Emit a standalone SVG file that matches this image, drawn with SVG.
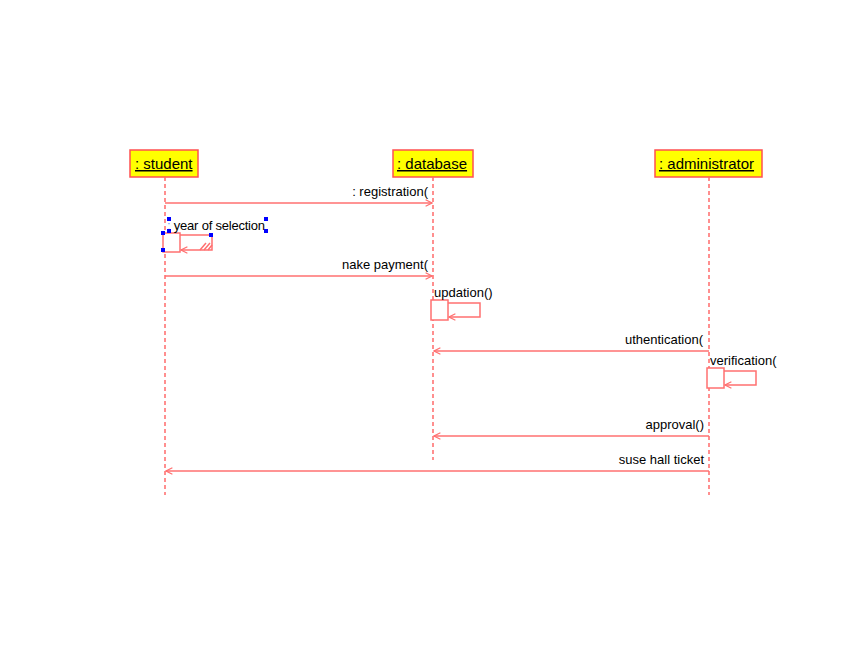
<svg xmlns="http://www.w3.org/2000/svg" width="844" height="650" viewBox="0 0 844 650">
<style>
.hdr{fill:#ffff00;stroke:#ff5050;stroke-width:1.5}
.hl{font-family:"Liberation Sans",Arial,sans-serif;font-size:15px;fill:#000;text-decoration:underline}
.life{stroke:#ff6b6b;stroke-width:1.5;stroke-dasharray:4,3;fill:none}
.msg{stroke:#ff7070;stroke-width:1.5;fill:none}
.act{fill:#fff;stroke:#ff7070;stroke-width:1.5}
.lbl{font-family:"Liberation Sans",Arial,sans-serif;font-size:13px;fill:#000}
.h{fill:#0000ff}
</style>
<defs>
<marker id="ah" viewBox="0 0 10 10" refX="9" refY="5" markerWidth="8" markerHeight="8" markerUnits="userSpaceOnUse" orient="auto">
<path d="M1,1 L9,5 L1,9" fill="none" stroke="#ff7070" stroke-width="1.5"/>
</marker>
</defs>
<rect width="844" height="650" fill="#fff"/>
<g id="student">
<rect class="hdr" x="130" y="150" width="68" height="27"/>
<text class="hl" x="135" y="169"> : student</text>
<line class="life" x1="165" y1="177" x2="165" y2="495"/>
</g>
<g id="database">
<rect class="hdr" x="393" y="150" width="80" height="27"/>
<text class="hl" x="397" y="169"> : database</text>
<line class="life" x1="433" y1="177" x2="433" y2="460"/>
</g>
<g id="administrator">
<rect class="hdr" x="655" y="150" width="107" height="27"/>
<text class="hl" x="659" y="169"> : administrator</text>
<line class="life" x1="709" y1="177" x2="709" y2="495"/>
</g>
<g id="connectors">
<line class="msg" x1="165" y1="203" x2="432" y2="203" marker-end="url(#ah)"/>
<text class="lbl" x="428" y="196" text-anchor="end">: registration(</text>

<rect class="act" x="163" y="233" width="17" height="19"/>
<path class="msg" d="M180,235 H212 V250 H181" marker-end="url(#ah)"/>
<path class="msg" d="M200,250 L206,243 M204,250 L210,243 M208,250 L212,245" stroke-width="1"/>
<text class="lbl" x="167" y="230" textLength="98"><tspan fill="#6aa0ff">:</tspan> year of selection</text>
<rect class="h" x="167" y="217" width="4" height="4"/>
<rect class="h" x="167" y="229" width="4" height="4"/>
<rect class="h" x="264" y="217" width="4" height="4"/>
<rect class="h" x="264" y="229" width="4" height="4"/>
<rect class="h" x="161" y="231" width="4" height="4"/>
<rect class="h" x="209" y="233" width="4" height="4"/>
<rect class="h" x="161" y="248" width="4" height="4"/>

<line class="msg" x1="165" y1="276" x2="432" y2="276" marker-end="url(#ah)"/>
<text class="lbl" x="428" y="269" text-anchor="end">nake payment(</text>

<rect class="act" x="431" y="300" width="17" height="20"/>
<path class="msg" d="M448,303 H480 V317 H449" marker-end="url(#ah)"/>
<text class="lbl" x="434" y="297">updation()</text>

<line class="msg" x1="709" y1="351" x2="434" y2="351" marker-end="url(#ah)"/>
<text class="lbl" x="703" y="344" text-anchor="end">uthentication(</text>

<rect class="act" x="707" y="368" width="17" height="20"/>
<path class="msg" d="M724,371 H756 V385 H725" marker-end="url(#ah)"/>
<text class="lbl" x="710" y="365">verification(</text>

<line class="msg" x1="709" y1="436" x2="434" y2="436" marker-end="url(#ah)"/>
<text class="lbl" x="704" y="429" text-anchor="end">approval()</text>

<line class="msg" x1="709" y1="471" x2="166" y2="471" marker-end="url(#ah)"/>
<text class="lbl" x="704" y="464" text-anchor="end">suse hall ticket</text>
</g>
</svg>
